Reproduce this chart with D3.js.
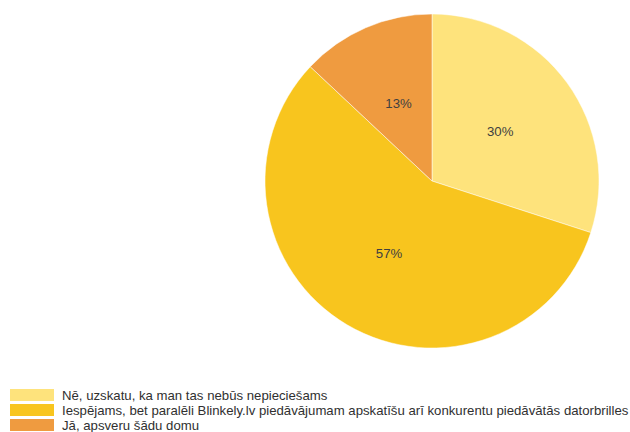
<!DOCTYPE html>
<html>
<head>
<meta charset="utf-8">
<script src="https://cdn.jsdelivr.net/npm/d3@7"></script>
<style>
  body { margin: 0; background: #fff; }
  svg { display: block; font-family: "Liberation Sans", Arial, sans-serif; }
</style>
</head>
<body>
<div id="chart"></div>
<script>
const categories = [
  'Nē, uzskatu, ka man tas nebūs nepieciešams',
  'Iespējams, bet paralēli Blinkely.lv piedāvājumam apskatīšu arī konkurentu piedāvātās datorbrilles',
  'Jā, apsveru šādu domu',
];
const values = [30, 57, 13];
const colors = ['#fee37c', '#f8c51e', '#ef9b40'];

const width = 630;
const height = 432;
const cx = 432;
const cy = 181;
const radius = 167;

const svg = d3.select('#chart').append('svg')
  .attr('width', width)
  .attr('height', height);

const data = categories.map((c, i) => ({ name: c, value: values[i], color: colors[i] }));

const pie = d3.pie()
  .sort(null)
  .value((d) => d.value);

const arc = d3.arc()
  .innerRadius(0)
  .outerRadius(radius);

const labelArc = d3.arc()
  .innerRadius(radius * 0.505)
  .outerRadius(radius * 0.505);

const total = d3.sum(values);

const pieG = svg.append('g')
  .attr('transform', `translate(${cx},${cy})`);

const arcs = pie(data);

pieG.selectAll('path.slice')
  .data(arcs)
  .join('path')
  .attr('class', 'slice')
  .attr('fill', (d) => d.data.color)
  .attr('stroke', '#fff')
  .attr('stroke-width', 0.5)
  .attr('d', arc);

pieG.selectAll('text.pct')
  .data(arcs)
  .join('text')
  .attr('class', 'pct')
  .attr('transform', (d) => `translate(${labelArc.centroid(d)})`)
  .attr('text-anchor', 'middle')
  .attr('dy', '0.35em')
  .attr('font-size', '13.2px')
  .attr('fill', '#404040')
  .text((d) => `${Math.round(d.data.value / total * 100)}%`);

// legend
const legend = svg.append('g')
  .attr('transform', 'translate(10,389)');

const rows = legend.selectAll('g.row')
  .data(data)
  .join('g')
  .attr('class', 'row')
  .attr('transform', (d, i) => `translate(0,${i * 15})`);

rows.append('rect')
  .attr('width', 44)
  .attr('height', 12)
  .attr('fill', (d) => d.color);

rows.append('text')
  .attr('x', 52)
  .attr('y', 11)
  .attr('font-size', '13.2px')
  .attr('fill', '#303030')
  .text((d) => d.name);
</script>
</body>
</html>
